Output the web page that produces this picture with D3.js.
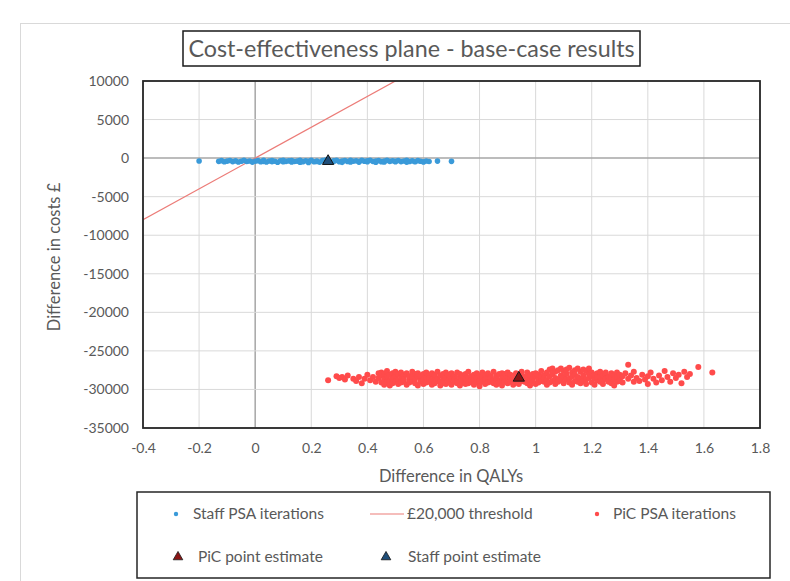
<!DOCTYPE html>
<html lang="en">
<head>
  <meta charset="utf-8" />
  <title>Cost-effectiveness plane</title>
  <script src="https://cdnjs.cloudflare.com/ajax/libs/d3/7.8.5/d3.min.js"></script>
  <style>
    body { margin: 0; background: #fff; }
    text { font-family: Lato, "Open Sans", sans-serif; fill: #595959; }
  </style>
</head>
<body>
  <script>
    // axis ticks
    var xTicks = [-0.4, -0.2, 0, 0.2, 0.4, 0.6, 0.8, 1, 1.2, 1.4, 1.6, 1.8];
    var yTicks = [10000, 5000, 0, -5000, -10000, -15000, -20000, -25000, -30000, -35000];

    // willingness-to-pay threshold (£ per QALY)
    var threshold = 20000;

    // point estimates [QALY diff, cost diff]
    var staffPoint = [0.26, -400];
    var picPoint = [0.94, -28500];

    // staff PSA iterations
    var staffPSA = [
      [-0.20,-380],[-0.13,-420],[-0.12,-330],[-0.11,-470],[-0.10,-390],[-0.09,-310],[-0.08,-450],[-0.07,-360],
      [-0.06,-500],[-0.05,-410],[-0.04,-300],[-0.03,-440],[-0.02,-370],[-0.01,-520],[0.00,-400],[0.01,-330],
      [0.02,-480],[0.03,-420],[0.03,-290],[0.04,-510],[0.05,-380],[0.06,-450],[0.06,-320],[0.07,-400],
      [0.08,-540],[0.09,-350],[0.10,-470],[0.10,-280],[0.11,-420],[0.12,-360],[0.13,-500],[0.13,-310],
      [0.14,-440],[0.15,-390],[0.16,-530],[0.16,-270],[0.17,-460],[0.18,-340],[0.19,-410],[0.19,-560],
      [0.20,-300],[0.21,-480],[0.22,-370],[0.22,-430],[0.23,-520],[0.24,-320],[0.25,-450],[0.25,-260],
      [0.26,-390],[0.27,-500],[0.28,-350],[0.28,-440],[0.29,-290],[0.30,-470],[0.31,-380],[0.31,-550],
      [0.32,-320],[0.33,-430],[0.34,-490],[0.34,-270],[0.35,-400],[0.36,-340],[0.37,-520],[0.37,-450],
      [0.38,-300],[0.39,-410],[0.40,-480],[0.40,-350],[0.41,-280],[0.42,-440],[0.43,-390],[0.43,-530],
      [0.44,-320],[0.45,-460],[0.46,-370],[0.46,-500],[0.47,-290],[0.48,-420],[0.49,-350],[0.50,-480],
      [0.50,-400],[0.51,-310],[0.52,-450],[0.53,-380],[0.54,-520],[0.54,-300],[0.55,-430],[0.56,-360],
      [0.57,-470],[0.58,-330],[0.59,-410],[0.60,-490],[0.61,-370],[0.62,-440],[0.65,-390],[0.70,-420]
    ];

    // PiC PSA iterations
    var picPSA = [
      [0.26,-28800],[0.29,-28300],[0.30,-28500],[0.31,-28400],[0.32,-28700],[0.33,-28200],[0.35,-28600],[0.36,-28900],
      [0.37,-28400],[0.38,-29200],[0.39,-28600],[0.40,-28100],[0.41,-28800],[0.42,-28400],[0.43,-29000],[0.44,-28500],[0.44,-27900],
      [0.45,-28200],[0.45,-29100],[0.45,-27800],[0.46,-28700],[0.46,-29400],[0.46,-28000],[0.47,-28400],[0.47,-27600],[0.47,-29000],
      [0.48,-28900],[0.48,-28100],[0.48,-29500],[0.49,-27900],[0.49,-28600],[0.49,-29200],[0.50,-28300],[0.50,-29000],[0.50,-27700],
      [0.51,-28800],[0.51,-28000],[0.51,-29300],[0.52,-28500],[0.52,-27800],[0.52,-29100],[0.53,-29000],[0.53,-28200],[0.53,-28700],
      [0.54,-28100],[0.54,-29400],[0.54,-27900],[0.55,-28600],[0.55,-29100],[0.55,-28300],[0.56,-27700],[0.56,-28900],[0.56,-28400],
      [0.57,-29200],[0.57,-28000],[0.57,-28600],[0.58,-28300],[0.58,-27900],[0.58,-29500],[0.59,-28800],[0.59,-28200],[0.59,-29000],
      [0.60,-28000],[0.60,-28700],[0.60,-29300],[0.61,-28500],[0.61,-29100],[0.61,-27800],[0.62,-29000],[0.62,-28300],[0.62,-28600],
      [0.63,-27900],[0.63,-28800],[0.63,-29400],[0.64,-28400],[0.64,-29200],[0.64,-28100],[0.65,-28900],[0.65,-27700],[0.65,-28600],
      [0.66,-28200],[0.66,-29000],[0.66,-29500],[0.67,-28700],[0.67,-28000],[0.67,-29200],[0.68,-29300],[0.68,-28500],[0.68,-27800],
      [0.69,-28100],[0.69,-28800],[0.69,-29100],[0.70,-28600],[0.70,-27900],[0.70,-29400],[0.71,-29000],[0.71,-28300],[0.71,-28700],
      [0.72,-27800],[0.72,-28900],[0.72,-29200],[0.73,-28400],[0.73,-29500],[0.73,-28000],[0.74,-28800],[0.74,-28200],[0.74,-29100],
      [0.75,-28000],[0.75,-28600],[0.75,-29300],[0.76,-29200],[0.76,-27700],[0.76,-28500],[0.77,-28300],[0.77,-29000],[0.77,-28800],
      [0.78,-28700],[0.78,-28100],[0.78,-29400],[0.79,-27900],[0.79,-28500],[0.79,-29100],[0.80,-28900],[0.80,-28200],[0.80,-29600],
      [0.81,-28400],[0.81,-27800],[0.81,-29000],[0.82,-28100],[0.82,-28700],[0.82,-29300],[0.83,-28600],[0.83,-29100],[0.83,-27900],
      [0.84,-29000],[0.84,-28300],[0.84,-28500],[0.85,-27700],[0.85,-28800],[0.85,-29200],[0.86,-28200],[0.86,-29400],[0.86,-28600],
      [0.87,-28900],[0.87,-28000],[0.87,-29100],[0.88,-28500],[0.88,-27900],[0.88,-29500],[0.89,-28000],[0.89,-28700],[0.89,-29000],
      [0.90,-29200],[0.90,-28400],[0.90,-27800],[0.91,-28600],[0.91,-29000],[0.91,-28100],[0.92,-28300],[0.92,-28800],[0.92,-29400],
      [0.93,-27900],[0.93,-28500],[0.93,-29100],[0.94,-28700],[0.94,-29300],[0.94,-28200],[0.95,-28100],[0.95,-28900],[0.95,-27700],
      [0.96,-29000],[0.96,-28400],[0.96,-28600],[0.97,-28500],[0.97,-27800],[0.97,-29200],[0.98,-28800],[0.98,-28200],[0.98,-29500],
      [0.99,-28000],[0.99,-28600],[0.99,-29000],[1.00,-29300],[1.00,-28300],[1.00,-27900],[1.01,-28700],[1.01,-29100],[1.01,-28100],
      [1.02,-28400],[1.02,-27600],[1.02,-28900],[1.03,-29000],[1.03,-28200],[1.03,-28600],[1.04,-27800],[1.04,-28800],[1.04,-29400],
      [1.05,-28300],[1.05,-27400],[1.05,-29100],[1.06,-28900],[1.06,-28000],[1.06,-27300],[1.07,-28500],[1.07,-29300],[1.07,-27700],
      [1.08,-27500],[1.08,-28700],[1.08,-29000],[1.09,-28200],[1.09,-27300],[1.09,-28800],[1.10,-29200],[1.10,-27600],[1.10,-28400],
      [1.11,-28000],[1.11,-28700],[1.11,-27400],[1.12,-28600],[1.12,-29100],[1.12,-27200],[1.13,-27800],[1.13,-28300],[1.13,-29400],
      [1.14,-28900],[1.14,-27500],[1.14,-28100],[1.15,-28400],[1.15,-29000],[1.15,-27300],[1.16,-27700],[1.16,-28600],[1.16,-29200],
      [1.17,-28200],[1.17,-27400],[1.17,-28900],[1.18,-28700],[1.18,-29300],[1.18,-27600],[1.19,-28000],[1.19,-28500],[1.19,-27300],
      [1.20,-29100],[1.20,-27800],[1.20,-28300],[1.21,-28600],[1.21,-28100],[1.21,-29400],[1.22,-27900],[1.22,-28800],[1.22,-28400],
      [1.23,-28300],[1.23,-29000],[1.23,-27700],[1.24,-28800],[1.24,-28200],[1.24,-29300],[1.25,-28100],[1.25,-27800],[1.25,-28600],
      [1.26,-29000],[1.26,-28400],[1.26,-28900],[1.27,-28500],[1.27,-27900],[1.27,-29200],[1.28,-28200],[1.28,-28700],[1.28,-29500],
      [1.29,-27800],[1.29,-28400],[1.29,-29000],[1.30,-28700],[1.30,-28100],[1.30,-28900],
      [1.31,-28300],[1.31,-29100],[1.32,-27900],[1.33,-26800],[1.33,-28600],[1.34,-28200],[1.35,-29000],[1.35,-27700],
      [1.36,-28500],[1.37,-28900],[1.38,-28100],[1.39,-28700],[1.40,-29300],[1.40,-28300],[1.41,-27800],[1.42,-28600],
      [1.43,-29100],[1.44,-28200],[1.45,-28800],[1.46,-27600],[1.47,-28400],[1.48,-29000],[1.49,-27900],[1.50,-28500],
      [1.51,-28100],[1.52,-29200],[1.53,-27700],[1.54,-28400],[1.55,-28000],[1.58,-27100],[1.63,-27800]
    ];

    var width = 790, height = 581;
    var plot = { left: 143, right: 760, top: 81, bottom: 428 };

    var svg = d3.select("body").append("svg")
      .attr("width", width)
      .attr("height", height);

    // outer chart frame
    svg.append("rect")
      .attr("x", 20.5).attr("y", 23.5)
      .attr("width", 800).attr("height", 600)
      .attr("fill", "none").attr("stroke", "#d9d9d9");

    var x = d3.scaleLinear().domain([-0.4, 1.8]).range([plot.left, plot.right]);
    var y = d3.scaleLinear().domain([-35000, 10000]).range([plot.bottom, plot.top]);

    // gridlines
    svg.append("g").selectAll("line.vg")
      .data(xTicks)
      .enter().append("line")
      .attr("x1", function(d) { return x(d); })
      .attr("x2", function(d) { return x(d); })
      .attr("y1", plot.top).attr("y2", plot.bottom)
      .attr("stroke", function(d) { return d === 0 ? "#a6a6a6" : "#d9d9d9"; })
      .attr("stroke-width", function(d) { return d === 0 ? 1.5 : 1; });

    svg.append("g").selectAll("line.hg")
      .data(yTicks)
      .enter().append("line")
      .attr("x1", plot.left).attr("x2", plot.right)
      .attr("y1", function(d) { return y(d); })
      .attr("y2", function(d) { return y(d); })
      .attr("stroke", function(d) { return d === 0 ? "#a6a6a6" : "#d9d9d9"; })
      .attr("stroke-width", function(d) { return d === 0 ? 1.5 : 1; });

    // axes (labels only)
    var xAxis = svg.append("g")
      .attr("transform", "translate(0," + plot.bottom + ")")
      .call(d3.axisBottom(x).tickValues(xTicks).tickSize(0).tickPadding(15)
        .tickFormat(function(d) { return String(+d.toFixed(1)); }));
    var yAxis = svg.append("g")
      .attr("transform", "translate(" + plot.left + ",0)")
      .call(d3.axisLeft(y).tickValues(yTicks).tickSize(0).tickPadding(14)
        .tickFormat(function(d) { return String(d); }));
    [xAxis, yAxis].forEach(function(a) {
      a.select(".domain").remove();
      a.selectAll("text").style("font-family", "Lato, sans-serif").style("font-size", "14px").attr("fill", "#595959");
    });

    // clip for threshold line
    svg.append("clipPath").attr("id", "plotclip")
      .append("rect")
      .attr("x", plot.left).attr("y", plot.top)
      .attr("width", plot.right - plot.left).attr("height", plot.bottom - plot.top);

    var line = d3.line()
      .x(function(d) { return x(d); })
      .y(function(d) { return y(d * threshold); });

    svg.append("path")
      .datum([-0.4, 1.8])
      .attr("d", line)
      .attr("clip-path", "url(#plotclip)")
      .attr("fill", "none")
      .attr("stroke", "#ec7c78")
      .attr("stroke-width", 1.2);

    // PSA scatters
    svg.append("g").selectAll("circle")
      .data(staffPSA)
      .enter().append("circle")
      .attr("cx", function(d) { return x(d[0]); })
      .attr("cy", function(d) { return y(d[1]); })
      .attr("r", 2.8)
      .attr("fill", "#3a9ad9");

    svg.append("g").selectAll("circle")
      .data(picPSA)
      .enter().append("circle")
      .attr("cx", function(d) { return x(d[0]); })
      .attr("cy", function(d) { return y(d[1]); })
      .attr("r", 3)
      .attr("fill", "#ff4b4b");

    // point estimates
    var tri = d3.symbol().type(d3.symbolTriangle).size(55);
    svg.append("path")
      .attr("d", tri)
      .attr("transform", "translate(" + x(picPoint[0]) + "," + y(picPoint[1]) + ")")
      .attr("fill", "#8b1414").attr("stroke", "#1a1a1a").attr("stroke-width", 1);
    svg.append("path")
      .attr("d", tri)
      .attr("transform", "translate(" + x(staffPoint[0]) + "," + y(staffPoint[1]) + ")")
      .attr("fill", "#1f4e79").attr("stroke", "#111").attr("stroke-width", 1);

    // plot border
    svg.append("rect")
      .attr("x", plot.left).attr("y", plot.top)
      .attr("width", plot.right - plot.left).attr("height", plot.bottom - plot.top)
      .attr("fill", "none").attr("stroke", "#262626").attr("stroke-width", 1.8);

    // axis titles
    svg.append("text")
      .attr("x", 451).attr("y", 482)
      .attr("text-anchor", "middle")
      .style("font-size", "16.5px")
      .text("Difference in QALYs");
    svg.append("text")
      .attr("transform", "translate(60,257) rotate(-90)")
      .attr("text-anchor", "middle")
      .style("font-size", "16.5px")
      .text("Difference in costs £");

    // title box
    svg.append("rect")
      .attr("x", 183).attr("y", 31)
      .attr("width", 457).attr("height", 35)
      .attr("fill", "#fff").attr("stroke", "#1a1a1a").attr("stroke-width", 1.5);
    svg.append("text")
      .attr("x", 411.5).attr("y", 57)
      .attr("text-anchor", "middle")
      .style("font-size", "23.3px")
      .attr("fill", "#404040")
      .text("Cost-effectiveness plane - base-case results");

    // legend
    var lg = svg.append("g");
    lg.append("rect")
      .attr("x", 137).attr("y", 492)
      .attr("width", 633).attr("height", 86)
      .attr("fill", "#fff").attr("stroke", "#262626").attr("stroke-width", 1.5);

    lg.append("circle").attr("cx", 176).attr("cy", 514).attr("r", 2.2).attr("fill", "#3a9ad9");
    lg.append("text").attr("x", 193).attr("y", 519).style("font-size", "15.5px").text("Staff PSA iterations");

    lg.append("line").attr("x1", 370).attr("x2", 404).attr("y1", 514).attr("y2", 514)
      .attr("stroke", "#ec7c78").attr("stroke-width", 1.2);
    lg.append("text").attr("x", 407).attr("y", 519).style("font-size", "15.5px").text("£20,000 threshold");

    lg.append("circle").attr("cx", 597).attr("cy", 514).attr("r", 2.2).attr("fill", "#ff4b4b");
    lg.append("text").attr("x", 613).attr("y", 519).style("font-size", "15.5px").text("PiC PSA iterations");

    lg.append("path").attr("d", d3.symbol().type(d3.symbolTriangle).size(40))
      .attr("transform", "translate(178,557)").attr("fill", "#8b1414").attr("stroke", "#1a1a1a").attr("stroke-width", 0.8);
    lg.append("text").attr("x", 198).attr("y", 562).style("font-size", "15.5px").text("PiC point estimate");

    lg.append("path").attr("d", d3.symbol().type(d3.symbolTriangle).size(40))
      .attr("transform", "translate(386,557)").attr("fill", "#1f4e79").attr("stroke", "#111").attr("stroke-width", 0.8);
    lg.append("text").attr("x", 408).attr("y", 562).style("font-size", "15.5px").text("Staff point estimate");
  </script>
</body>
</html>
